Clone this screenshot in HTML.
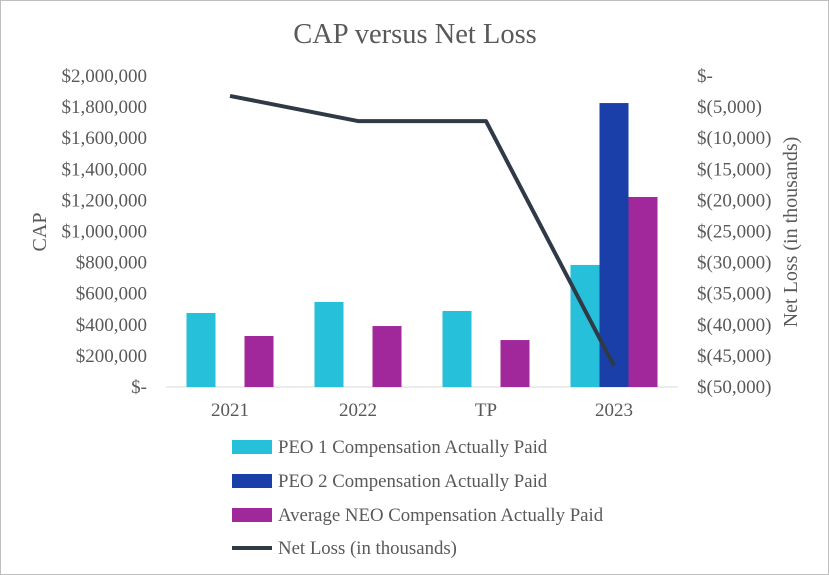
<!DOCTYPE html>
<html><head><meta charset="utf-8"><style>
body{margin:0;background:#fff}
svg{display:block;font-family:"Liberation Serif",serif}
</style></head><body>
<svg id="c" width="829" height="575" viewBox="0 0 829 575">
<rect x="0.5" y="0.5" width="828" height="574" fill="#fff" stroke="#bfbfbf"/>
<text x="415" y="43" text-anchor="middle" font-size="28.5" fill="#595959">CAP versus Net Loss</text>
<text transform="translate(46,232) rotate(-90)" text-anchor="middle" font-size="20" fill="#595959">CAP</text>
<text transform="translate(797,232) rotate(-90)" text-anchor="middle" font-size="20" fill="#595959">Net Loss (in thousands)</text>
<g id="plot"></g>
<g>
<g><rect x="232" y="440" width="40" height="14" fill="#26C0DA"/><text x="278" y="453" font-size="18.8" fill="#595959">PEO 1 Compensation Actually Paid</text></g>
<g><rect x="232" y="474" width="40" height="14" fill="#1A3FA8"/><text x="278" y="487" font-size="18.8" fill="#595959">PEO 2 Compensation Actually Paid</text></g>
<g><rect x="232" y="508" width="40" height="14" fill="#A0289A"/><text x="278" y="521" font-size="18.8" fill="#595959">Average NEO Compensation Actually Paid</text></g>
<g><line x1="232" y1="548" x2="272" y2="548" stroke="#2F3A46" stroke-width="4"/><text x="278" y="554" font-size="18.8" fill="#595959">Net Loss (in thousands)</text></g>
</g>
</svg>
<script>
const categories=["2021","2022","TP","2023"];
const peo1=[476000,547000,489000,785000];
const peo2=[0,0,0,1826000];
const neo=[328000,392000,302000,1222000];
const netLoss=[-3200,-7250,-7250,-46600];
const leftTicks=[0,200000,400000,600000,800000,1000000,1200000,1400000,1600000,1800000,2000000];
const rightTicks=[0,-5000,-10000,-15000,-20000,-25000,-30000,-35000,-40000,-45000,-50000];
const NS="http://www.w3.org/2000/svg";
const g=document.getElementById('plot');
const X0=166,X1=678,Y0=387,Y1=76;
const band=(X1-X0)/categories.length;
const cx=i=>X0+band*(i+0.5);
const yL=v=>Y0-(v/2000000)*(Y0-Y1);
const yR=v=>Y1+(-v/50000)*(Y0-Y1);
function el(t,a){const e=document.createElementNS(NS,t);for(const k in a)e.setAttribute(k,a[k]);g.appendChild(e);return e;}
function fmtL(v){return v===0?"$-":"$"+v.toLocaleString("en-US");}
function fmtR(v){return v===0?"$-":"$("+(-v).toLocaleString("en-US")+")";}
leftTicks.forEach(v=>{const t=el('text',{x:147,y:yL(v)+6,'text-anchor':'end','font-size':19,fill:'#595959'});t.textContent=fmtL(v);

});
rightTicks.forEach(v=>{const t=el('text',{x:697,y:yR(v)+6,'font-size':19,fill:'#595959'});t.textContent=fmtR(v);

});
const ax=el('line',{x1:X0,y1:Y0,x2:X1,y2:Y0,stroke:'#d9d9d9','stroke-width':1});


const bw=29;
const series=[[peo1,'#26C0DA','peo1'],[peo2,'#1A3FA8','peo2'],[neo,'#A0289A','neo']];
categories.forEach((c,i)=>{
  series.forEach((s,j)=>{const v=s[0][i];if(!v)return;
    const x=cx(i)-1.5*bw+j*bw;
    const r=el('rect',{x:x,y:yL(v),width:bw,height:Y0-yL(v),fill:s[1]});
    
    });
  const t=el('text',{x:cx(i),y:416,'text-anchor':'middle','font-size':19,fill:'#595959'});t.textContent=c;
  
  
});
const pts=netLoss.map((v,i)=>cx(i)+","+yR(v)).join(" ");
const pl=el('polyline',{points:pts,fill:'none',stroke:'#2F3A46','stroke-width':4,'stroke-linejoin':'round'});


</script>
</body></html>
